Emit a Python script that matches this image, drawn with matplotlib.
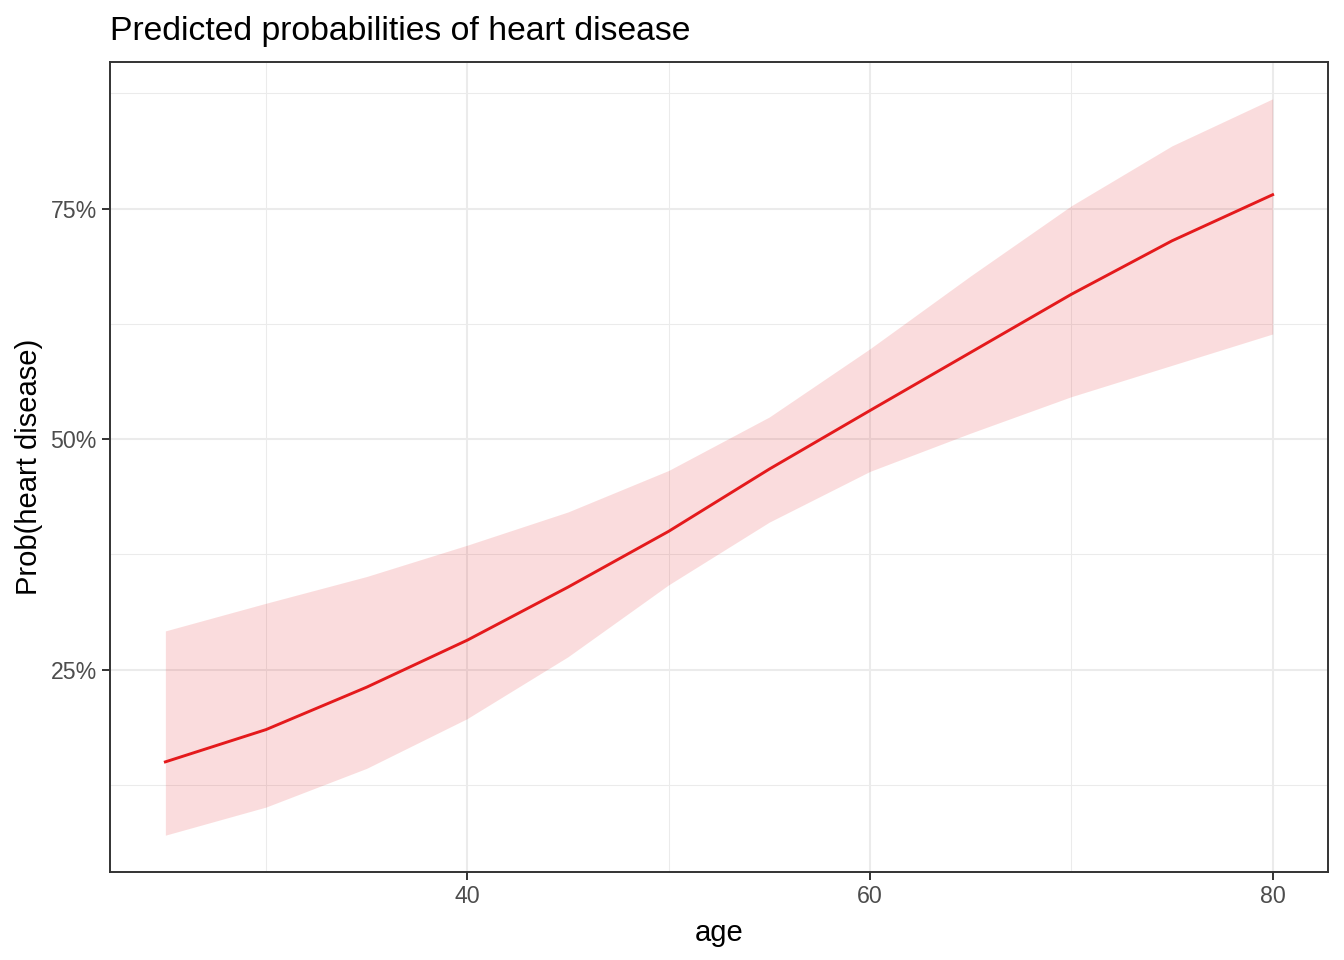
import matplotlib
matplotlib.use("Agg")
import matplotlib.pyplot as plt
from matplotlib.ticker import FixedLocator, FuncFormatter

plt.rcParams['font.family'] = ['Liberation Sans', 'DejaVu Sans']

age = [25, 30, 35, 40, 45, 50, 55, 60, 65, 70, 75, 80]
predicted = [15.0, 18.5, 23.1, 28.2, 33.95, 40.0, 46.75, 53.1, 59.4, 65.7, 71.5, 76.5]
conf_low = [7.05, 10.1, 14.3, 19.7, 26.4, 34.2, 41.0, 46.5, 50.65, 54.6, 58.0, 61.4]
conf_high = [29.2, 32.2, 35.1, 38.5, 42.1, 46.6, 52.4, 59.8, 67.7, 75.3, 81.8, 86.9]

x_major = [40, 60, 80]
x_minor = [30, 50, 70]
y_major = [25, 50, 75]
y_minor = [12.5, 37.5, 62.5, 87.5]

red = '#E41A1C'

fig = plt.figure(figsize=(13.44, 9.6), dpi=100)
ax = fig.add_axes([110/1344, 1-872/960, (1328-110)/1344, (872-62)/960])

ax.fill_between(age, conf_low, conf_high, color=red, alpha=0.15, linewidth=0, zorder=2)
ax.plot(age, predicted, color=red, linewidth=2.1, zorder=3)

xr = max(age) - min(age)
ax.set_xlim(min(age) - 0.05 * xr, max(age) + 0.05 * xr)
ylo, yhi = min(conf_low), max(conf_high)
yr = yhi - ylo
ax.set_ylim(ylo - 0.05 * yr, yhi + 0.05 * yr)

ax.xaxis.set_major_locator(FixedLocator(x_major))
ax.xaxis.set_minor_locator(FixedLocator(x_minor))
ax.yaxis.set_major_locator(FixedLocator(y_major))
ax.yaxis.set_minor_locator(FixedLocator(y_minor))
ax.yaxis.set_major_formatter(FuncFormatter(lambda v, p: f"{v:.0f}%"))

ax.grid(which='major', color='#EBEBEB', linewidth=1.5, zorder=0)
ax.grid(which='minor', color='#EBEBEB', linewidth=0.75, zorder=0)
ax.set_axisbelow(True)

for s in ax.spines.values():
    s.set_color('#333333')
    s.set_linewidth(1.4)

ax.tick_params(which='major', length=5.5, width=1.4, color='#333333',
               labelsize=16.7, labelcolor='#4D4D4D', pad=4)
ax.tick_params(which='minor', length=0)

ax.set_xlabel('age', fontsize=21, color='black', labelpad=8)
ax.set_ylabel('Prob(heart disease)', fontsize=21, color='black', labelpad=5)
ax.set_title('Predicted probabilities of heart disease', fontsize=24.3, loc='left',
             color='black', pad=16)

fig.savefig('out.png', dpi=100)
